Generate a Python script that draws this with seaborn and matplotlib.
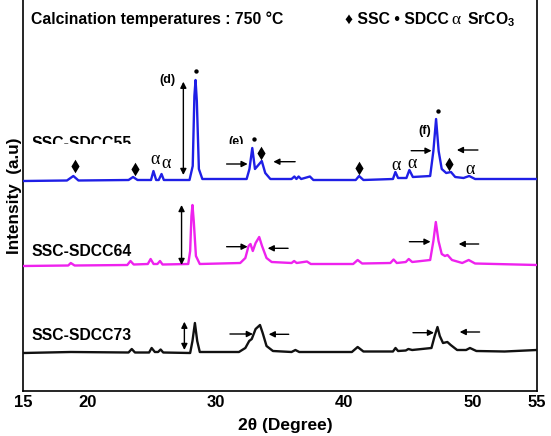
import matplotlib
matplotlib.use("Agg")
import matplotlib.pyplot as plt
import seaborn as sns
import pandas as pd
from matplotlib.patches import Rectangle

# ---------------- data ----------------
blue_theta = [15, 18.4, 18.9, 19.3, 23.2, 23.55, 23.9, 24.95, 25.14, 25.35, 25.55, 25.77, 25.95,
              27.95, 28.2, 28.33, 28.42, 28.52, 28.68, 28.95, 32.4, 32.62, 32.84, 33.05, 33.25,
              33.58, 33.85, 34.25, 35.9, 36.12, 36.28, 36.45, 36.65, 37.33, 37.6, 40.9, 41.16,
              41.5, 43.8, 43.99, 44.2, 44.85, 45.08, 45.35, 46.7, 46.95, 47.16, 47.36, 47.6,
              47.95, 48.32, 48.65, 49.3, 49.74, 50.2, 55]
blue_int = [210, 210.5, 215, 210.5, 211, 214, 211, 211, 220, 211, 211, 217, 211,
            211, 225, 295, 311, 290, 222, 212, 212, 222, 243, 222, 225,
            230, 218, 212, 212, 214.5, 212, 214.5, 212, 214.5, 211, 211, 215,
            211, 212, 219, 213, 213, 221, 214, 215, 240, 272, 240, 222,
            218, 219, 214, 213, 215, 212, 212]

mag_theta = [15, 18.5, 18.7, 19.0, 23.1, 23.35, 23.6, 24.7, 24.92, 25.15, 25.45, 25.65, 25.85,
             27.85, 28.0, 28.1, 28.18, 28.28, 28.45, 28.75, 31.9, 32.3, 32.55, 32.7, 32.88,
             33.1, 33.38, 33.6, 33.95, 34.35, 35.9, 36.1, 36.3, 37.1, 37.4, 40.7, 41.05,
             41.4, 43.6, 43.85, 44.1, 44.8, 45.03, 45.3, 46.7, 46.95, 47.14, 47.35, 47.6,
             47.85, 48.05, 48.4, 49.2, 49.7, 50.2, 55]
mag_int = [125, 125.5, 128, 125.5, 126, 130, 126.5, 127, 132, 127, 127, 130, 126.5,
           127, 140, 175, 186, 170, 135, 127, 128, 133, 145, 147, 140,
           148, 154, 145, 133, 129, 128, 130, 128, 129.5, 127, 127, 131,
           127.5, 128, 131.5, 128, 129, 132, 129, 131, 150, 169, 150, 137,
           135, 136, 131, 128, 131, 127.5, 126]

blk_theta = [15, 18.7, 23.2, 23.45, 23.7, 24.8, 25.0, 25.25, 25.5, 25.7, 25.9, 28.0, 28.18,
             28.37, 28.55, 28.75, 31.8, 32.3, 32.6, 32.8, 33.1, 33.44, 33.65, 33.95, 34.45,
             35.9, 36.2, 36.5, 40.6, 41.05, 41.5, 43.8, 44.0, 44.2, 44.8, 45.0, 45.3, 46.8,
             47.05, 47.27, 47.45, 47.7, 48.04, 48.3, 48.8, 49.5, 49.8, 50.3, 52.5, 55]
blk_int = [38, 39, 38.5, 42, 38.5, 38.5, 43, 39, 39, 41.5, 38.5, 38, 50,
           68, 50, 39, 39, 43, 50, 52, 62, 66, 58, 45, 40,
           39, 41, 39, 39, 44, 39.5, 39.5, 43, 40, 40.5, 42, 41, 43,
           55, 64, 55, 48, 49, 46, 41, 41, 43, 40, 39.5, 41]

samples = ["SSC-SDCC55", "SSC-SDCC64", "SSC-SDCC73"]
colors = ["#1f1fe6", "#ee22ee", "#111111"]
sample_label_y = [248, 139, 55.3]

dot_theta = [28.42, 32.95, 47.33]
dot_int = [320, 252, 280]
diamond_theta = [19.0, 23.71, 33.52, 41.16, 48.18]
diamond_int = [225, 222, 238.3, 223.3, 226.7]
alpha_theta = [25.25, 26.1, 44.04, 45.27, 49.79]
alpha_int = [231, 227, 225.3, 228, 222]

# vertical double arrows (theta, low, high)
varrow_theta = [27.47, 27.33, 27.55]
varrow_lo = [216, 126, 41]
varrow_hi = [309.3, 186, 69.3]
# horizontal arrows (tail theta, head theta, y)
harrow_tail = [30.84, 36.18, 45.22, 50.42, 30.84, 35.63, 45.08, 50.48, 31.1, 35.68, 45.36, 50.55]
harrow_head = [32.48, 34.48, 46.81, 48.78, 32.48, 34.04, 46.73, 48.92, 32.89, 34.12, 47.0, 49.0]
harrow_y = [227, 229.3, 240.3, 241, 144.3, 142.7, 149.3, 147, 57, 56.7, 58.3, 59]

peak_labels = ["(d)", "(e)", "(f)"]
peak_label_theta = [26.26, 31.58, 46.28]
peak_label_int = [311, 249, 260]

xticks = [15, 20, 30, 40, 50, 55]

# ---------------- figure ----------------
sns.set_style("white")
plt.rcParams['font.family'] = ['Liberation Sans', 'DejaVu Sans']
plt.rcParams['font.weight'] = 'bold'
plt.rcParams['text.color'] = 'black'
plt.rcParams['xtick.color'] = 'black'
plt.rcParams['axes.labelcolor'] = 'black'
plt.rcParams['mathtext.fontset'] = 'custom'
plt.rcParams['mathtext.rm'] = 'Liberation Sans:bold'
plt.rcParams['mathtext.bf'] = 'Liberation Sans:bold'

fig = plt.figure(figsize=(5.51, 4.36), dpi=100)
W, H = 551, 436
ax = fig.add_axes([23.3 / W, (H - 391) / H, (536.7 - 23.3) / W, 391 / H])

df = pd.concat([
    pd.DataFrame({"theta": blue_theta, "I": blue_int, "sample": samples[0]}),
    pd.DataFrame({"theta": mag_theta, "I": mag_int, "sample": samples[1]}),
    pd.DataFrame({"theta": blk_theta, "I": blk_int, "sample": samples[2]}),
])
sns.lineplot(data=df, x="theta", y="I", hue="sample", palette=dict(zip(samples, colors)),
             ax=ax, legend=False, linewidth=1.7, zorder=3)

ax.set_xlim(15, 55)
ax.set_ylim(0, 391)
ax.set_xticks(xticks)
ax.set_xticklabels([str(t) for t in xticks], fontsize=12, fontweight='bold', color='black')
ax.set_yticks([])
ax.tick_params(axis='x', length=0, pad=3)
ax.set_xlabel("")
ax.set_ylabel("")
for s in ["left", "right", "bottom"]:
    ax.spines[s].set_color("black")
    ax.spines[s].set_linewidth(1.2)
ax.spines["top"].set_visible(False)

# sample labels
for name, yv in zip(samples, sample_label_y):
    ax.text(15.6, yv, name, fontsize=11.3, fontweight='bold', ha='left', va='center',
            color='black', zorder=1)
for lab, tx, ty in zip(peak_labels, peak_label_theta, peak_label_int):
    ax.text(tx, ty, lab, fontsize=9, fontweight='bold', ha='center', va='center',
            color='black', zorder=1)
# white band partially covering labels (as in the reference)
ax.add_patch(Rectangle((15.05, 235), 17.3, 11.5, facecolor='white', edgecolor='none', zorder=1.5))

# phase markers
ax.scatter(dot_theta, dot_int, s=10, color='black', zorder=4, linewidths=0)
ax.scatter(diamond_theta, diamond_int, marker='d', s=48, color='black', zorder=4, linewidths=0)
for tx, ty in zip(alpha_theta, alpha_int):
    ax.text(tx, ty, "α", family=['Liberation Serif', 'DejaVu Serif'], fontweight='normal',
            fontsize=13, ha='center', va='center', color='black', zorder=4)

# arrows
for tx, lo, hi in zip(varrow_theta, varrow_lo, varrow_hi):
    ax.annotate("", xy=(tx, hi), xytext=(tx, lo),
                arrowprops=dict(arrowstyle='<|-|>', color='black', lw=1.0,
                                mutation_scale=9, shrinkA=0, shrinkB=0), zorder=5)
for t0, t1, yv in zip(harrow_tail, harrow_head, harrow_y):
    ax.annotate("", xy=(t1, yv), xytext=(t0, yv),
                arrowprops=dict(arrowstyle='-|>', color='black', lw=1.0,
                                mutation_scale=9, shrinkA=0, shrinkB=0), zorder=5)

# header texts
fig.text(31 / W, 1 - 19.5 / H, "Calcination temperatures : 750 °C", fontsize=11.3,
         fontweight='bold', ha='left', va='center', color='black')
fig.text(345 / W, 1 - 19.5 / H, "♦ SSC • SDCC", fontsize=11.3, fontweight='bold',
         ha='left', va='center', color='black', family=['Liberation Sans', 'DejaVu Sans'])
fig.text(451 / W, 1 - 19.5 / H, "α", fontsize=12.5, fontweight='normal', color='black',
         ha='left', va='center', family=['Liberation Serif', 'DejaVu Serif'])
fig.text(467 / W, 1 - 19.5 / H, r"SrCO$_3$", fontsize=11.3, fontweight='bold',
         ha='left', va='center', color='black')

# axis labels
fig.text(285 / W, 1 - 425.5 / H, "2θ (Degree)", fontsize=12.5, fontweight='bold',
         ha='center', va='center', color='black')
fig.text(15 / W, 1 - 196 / H, "Intensity  (a.u)", fontsize=12.3, fontweight='bold',
         ha='center', va='center', rotation=90, color='black')

fig.savefig("out.png", dpi=100)
